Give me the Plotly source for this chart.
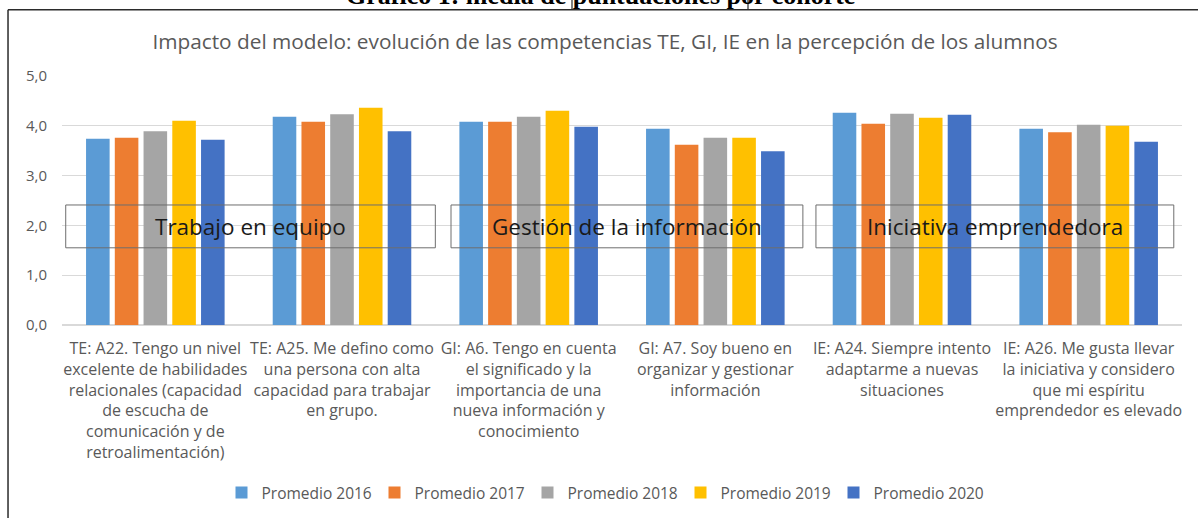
import plotly.graph_objects as go

# Survey items (x-axis categories), one per competence question
categories = [
    "TE: A22. Tengo un nivel<br>excelente de habilidades<br>relacionales (capacidad<br>de escucha de<br>comunicación y de<br>retroalimentación)",
    "TE: A25. Me defino como<br>una persona con alta<br>capacidad para trabajar<br>en grupo.",
    "GI: A6. Tengo en cuenta<br>el significado y la<br>importancia de una<br>nueva información y<br>conocimiento",
    "GI: A7. Soy bueno en<br>organizar y gestionar<br>información",
    "IE: A24. Siempre intento<br>adaptarme a nuevas<br>situaciones",
    "IE: A26. Me gusta llevar<br>la iniciativa y considero<br>que mi espíritu<br>emprendedor es elevado",
]

# Mean score per cohort
promedio_2016 = [3.74, 4.18, 4.08, 3.94, 4.26, 3.94]
promedio_2017 = [3.76, 4.08, 4.08, 3.62, 4.04, 3.87]
promedio_2018 = [3.89, 4.23, 4.18, 3.76, 4.24, 4.02]
promedio_2019 = [4.10, 4.36, 4.30, 3.76, 4.16, 4.00]
promedio_2020 = [3.72, 3.89, 3.98, 3.49, 4.22, 3.68]

series_names = ["Promedio 2016", "Promedio 2017", "Promedio 2018", "Promedio 2019", "Promedio 2020"]
series_values = [promedio_2016, promedio_2017, promedio_2018, promedio_2019, promedio_2020]
series_colors = ["#5B9BD5", "#ED7D31", "#A5A5A5", "#FFC000", "#4472C4"]

# Competence group labels and the category span each one covers
group_labels = ["Trabajo en equipo", "Gestión de la información", "Iniciativa emprendedora"]
group_spans = [(-0.48, 1.50), (1.584, 3.469), (3.539, 5.456)]
group_band = (1.55, 2.41)

FONT = "Open Sans"
GREY = "#595959"

fig = go.Figure()
for name, vals, col in zip(series_names, series_values, series_colors):
    fig.add_trace(go.Bar(x=categories, y=vals, name=name, marker_color=col,
                         marker_line_width=0))

shapes = []
annotations = []
for label, (x0, x1) in zip(group_labels, group_spans):
    shapes.append(dict(type="rect", xref="x", yref="y", x0=x0, x1=x1,
                       y0=group_band[0], y1=group_band[1],
                       line=dict(color="#6e6e6e", width=1), layer="above"))
    annotations.append(dict(xref="x", yref="y", x=(x0 + x1) / 2,
                            y=(group_band[0] + group_band[1]) / 2 - 0.01,
                            text=label, showarrow=False,
                            font=dict(family=FONT, size=22.5, color="#1a1a1a")))

# Frame around the chart (top and left edges)
shapes.append(dict(type="line", xref="paper", yref="paper", x0=-0.0482, x1=1.1,
                   y0=1.266, y1=1.266, line=dict(color="#2b2b2b", width=1.5)))
shapes.append(dict(type="line", xref="paper", yref="paper", x0=-0.0482, x1=-0.0482,
                   y0=1.266, y1=-0.8, line=dict(color="#2b2b2b", width=1.5)))
# Table rules above the frame
for px in (572, 748):
    xp = (px - 62) / 1120
    shapes.append(dict(type="line", xref="paper", yref="paper", x0=xp, x1=xp,
                       y0=1.266, y1=1.35, line=dict(color="#2b2b2b", width=1.2)))

# Document caption above the frame
annotations.append(dict(xref="paper", yref="paper", x=(600 - 62) / 1120, y=(325 - 5) / 249,
                        yanchor="bottom", xanchor="center", yshift=-7,
                        text="<b>Gráfico 1: media de puntuaciones por cohorte</b>", showarrow=False,
                        font=dict(family="Liberation Serif", size=26, color="#000000")))

fig.update_layout(
    width=1198, height=518,
    margin=dict(l=62, r=16, t=76, b=193),
    paper_bgcolor="white", plot_bgcolor="white",
    separators=",.",
    barmode="group", bargap=0.23, bargroupgap=0.18,
    title=dict(text="Impacto del modelo: evolución de las competencias TE, GI, IE en la percepción de los alumnos",
               x=605 / 1198, xanchor="center", y=1 - 42 / 518, yanchor="middle",
               font=dict(family=FONT, size=20.8, color=GREY)),
    font=dict(family=FONT, size=15, color=GREY),
    legend=dict(orientation="h", x=604 / 1198, xanchor="center", xref="container",
                y=1 - 493 / 518, yanchor="middle", yref="container",
                entrywidth=108, font=dict(family=FONT, size=15.5, color=GREY)),
    shapes=shapes, annotations=annotations,
)
fig.update_yaxes(range=[0, 5], dtick=1, tickformat=".1f", showgrid=True,
                 gridcolor="#D9D9D9", gridwidth=1, zeroline=True, zerolinecolor="#D9D9D9",
                 showline=False, ticks="", ticklabelstandoff=14,
                 tickfont=dict(family=FONT, size=15, color=GREY))
fig.update_xaxes(showline=False, ticks="", tickangle=0, ticklabelstandoff=12,
                 tickfont=dict(family=FONT, size=16, color=GREY))

fig.write_html("out.html")
